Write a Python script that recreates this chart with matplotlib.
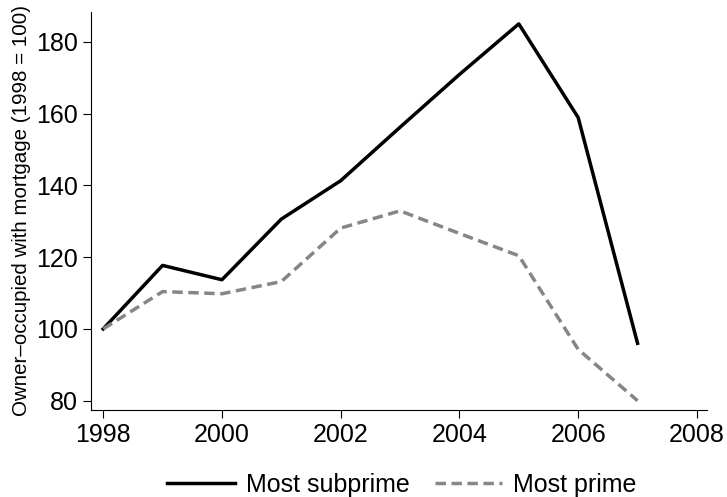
import matplotlib
matplotlib.use("Agg")
import matplotlib.pyplot as plt

# values
years = [1998, 1999, 2000, 2001, 2002, 2003, 2004, 2005, 2006, 2007]
most_subprime = [100, 117.7, 113.7, 130.6, 141.3, 156.2, 170.9, 185, 158.9, 96]
most_prime = [100, 110.4, 109.8, 113.2, 128.1, 132.9, 126.6, 120.4, 94.3, 80]
x_ticks = [1998, 2000, 2002, 2004, 2006, 2008]
y_ticks = [80, 100, 120, 140, 160, 180]

plt.rcParams['font.family'] = ['Liberation Sans', 'DejaVu Sans']

fig = plt.figure(figsize=(7.27, 4.97), dpi=100)
ax = fig.add_axes([0.1248, 0.175, 0.8477, 0.8015])

ax.plot(years, most_subprime, color='black', lw=2.5, label='Most subprime')
ax.plot(years, most_prime, color='#868686', lw=2.5, dashes=(3.0, 1.6), label='Most prime')

ax.set_xlim(1997.79, 2008.17)
ax.set_ylim(77.4, 188.4)
ax.set_xticks(x_ticks)
ax.set_yticks(y_ticks)
ax.tick_params(labelsize=18, length=6, width=0.8, direction='out', pad=3)
ax.set_ylabel('Owner–occupied with mortgage (1998 = 100)', fontsize=14.8, labelpad=4)

for s in ['top', 'right']:
    ax.spines[s].set_visible(False)
for s in ['left', 'bottom']:
    ax.spines[s].set_linewidth(0.8)

fig.legend(loc='center', bbox_to_anchor=(0.553, 0.025), ncol=2, frameon=False,
           fontsize=18, handlelength=2.7, columnspacing=1.0, handletextpad=0.45)

fig.savefig('out.png', dpi=100)
